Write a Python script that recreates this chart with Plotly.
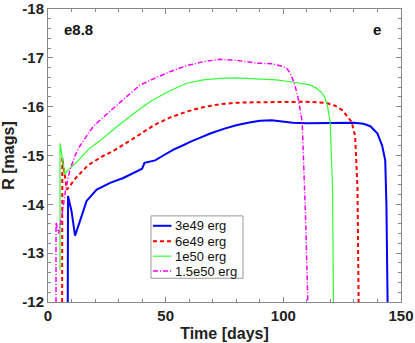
import plotly.graph_objects as go

# light curves, R band (days, mags)
t_3e49 = [8.4, 8.5, 10.0, 11.5, 13.6, 16.4, 20.7, 26.4, 32.0, 37.7, 40.0, 41.0, 45.5, 49.0,
          53.3, 57.0, 60.4, 65.0, 68.9, 75.0, 80.0, 85.0, 90.0, 95.0, 100.0, 104.0, 110.0,
          120.0, 130.0, 134.0, 137.0, 140.0, 142.0, 143.3, 143.8, 144.3]
r_3e49 = [-12.0, -14.17, -13.86, -13.36, -13.66, -14.07, -14.3, -14.44, -14.54, -14.68, -14.73,
          -14.85, -14.9, -15.0, -15.12, -15.2, -15.28, -15.37, -15.45, -15.55, -15.62, -15.67,
          -15.71, -15.72, -15.69, -15.67, -15.66, -15.67, -15.67, -15.65, -15.6, -15.45, -15.2,
          -14.9, -14.0, -12.0]

t_6e49 = [6.0, 6.1, 8.0, 10.0, 12.0, 17.0, 23.0, 28.0, 34.0, 38.0, 45.0, 52.0, 59.0, 66.0,
          73.0, 80.0, 89.0, 100.0, 110.0, 118.0, 122.0, 125.0, 127.0, 129.0, 130.5, 131.5, 132.0]
r_6e49 = [-12.0, -14.95, -14.3, -14.42, -14.55, -14.8, -14.98, -15.1, -15.27, -15.4, -15.62,
          -15.78, -15.9, -15.99, -16.05, -16.08, -16.09, -16.1, -16.1, -16.08, -16.02, -15.93,
          -15.82, -15.69, -15.4, -14.35, -12.0]

t_1e50 = [5.1, 5.1, 7.2, 8.0, 13.0, 17.0, 22.0, 30.0, 37.0, 44.0, 52.0, 59.0, 66.0, 73.0, 80.0,
          89.0, 97.0, 104.5, 111.6, 114.0, 116.0, 117.5, 118.7, 119.9, 120.9, 121.3]
r_1e50 = [-12.65, -15.25, -14.61, -14.68, -14.9, -15.12, -15.3, -15.62, -15.88, -16.12, -16.33,
          -16.48, -16.55, -16.58, -16.59, -16.57, -16.55, -16.5, -16.44, -16.38, -16.3, -16.2,
          -16.03, -15.69, -14.34, -12.0]

t_15e50 = [3.4, 3.4, 4.5, 6.0, 7.5, 9.3, 11.5, 13.6, 15.7, 19.3, 25.0, 30.7, 33.4, 39.0, 44.8,
           52.0, 59.0, 66.0, 73.0, 80.0, 89.0, 95.0, 100.0, 101.7, 103.0, 104.5, 106.0, 107.4,
           108.0, 109.5, 110.4]
r_15e50 = [-12.0, -13.63, -13.4, -13.8, -14.3, -14.7, -15.0, -15.2, -15.35, -15.6, -15.85,
           -16.09, -16.2, -16.44, -16.57, -16.72, -16.84, -16.92, -16.97, -16.95, -16.89, -16.88,
           -16.82, -16.77, -16.68, -16.5, -16.25, -15.89, -15.69, -13.66, -12.0]

labels = ["3e49 erg", "6e49 erg", "1e50 erg", "1.5e50 erg"]
colors = ["#0000ff", "#ff0000", "#33ff33", "#ff00ff"]
widths = [2, 2, 1.2, 1.5]
dashes = ["solid", "4px,3px", "solid", "5px,2px,1px,2px"]

font = "Liberation Sans, Arial, sans-serif"

fig = go.Figure()
series = [(t_3e49, r_3e49), (t_6e49, r_6e49), (t_1e50, r_1e50), (t_15e50, r_15e50)]
for (t, r), name, c, w, d in zip(series, labels, colors, widths, dashes):
    fig.add_trace(go.Scatter(x=t, y=r, mode="lines", name=name, showlegend=False,
                             line=dict(color=c, width=w, dash=d)))

# hand-drawn legend box (compact line samples like the original)
shapes = [dict(type="rect", xref="paper", yref="paper", x0=0.2918, x1=0.5524, y0=0.0811, y1=0.2939,
               line=dict(color="#999", width=1), fillcolor="white", layer="above")]
annotations = []
row_y = [0.2601, 0.2071, 0.1564, 0.1057]
for yy, name, c, w, d in zip(row_y, labels, colors, widths, dashes):
    shapes.append(dict(type="line", xref="paper", yref="paper", x0=0.2975, x1=0.3499, y0=yy, y1=yy,
                       line=dict(color=c, width=w, dash=d), layer="above"))
    annotations.append(dict(x=0.3527, y=yy, xref="paper", yref="paper", text=name, showarrow=False,
                            xanchor="left", yanchor="middle",
                            font=dict(size=13, family=font, color="#111")))

annotations += [
    dict(x=0.04, y=0.93, xref="paper", yref="paper", text="<b>e8.8</b>",
         showarrow=False, font=dict(size=15, family=font, color="#111"),
         xanchor="left", yanchor="middle"),
    dict(x=0.931, y=0.93, xref="paper", yref="paper", text="<b>e</b>",
         showarrow=False, font=dict(size=15, family=font, color="#111"),
         xanchor="center", yanchor="middle"),
]

fig.update_layout(
    width=415, height=343,
    margin=dict(l=48, r=14, t=9, b=41),
    plot_bgcolor="white", paper_bgcolor="white",
    font=dict(family=font, color="#222"),
    showlegend=False,
    shapes=shapes,
    annotations=annotations,
)

fig.update_xaxes(
    range=[0, 150], tickvals=[0, 50, 100, 150], ticktext=["<b>0</b>", "<b>50</b>", "<b>100</b>", "<b>150</b>"],
    ticks="inside", ticklen=5, tickcolor="#888", mirror="allticks", automargin=False,
    showline=True, linecolor="#888", linewidth=1, showgrid=False, zeroline=False,
    minor=dict(dtick=10, tick0=0, ticks="inside", ticklen=3, tickcolor="#888"),
    tickfont=dict(size=15, family=font, color="#222"), ticklabeloverflow="allow",
    title=dict(text="<b>Time [days]</b>", font=dict(size=16, family=font, color="#222"), standoff=4),
)
fig.update_yaxes(
    range=[-12, -18], tickvals=[-18, -17, -16, -15, -14, -13, -12],
    ticktext=["<b>-18</b>", "<b>-17</b>", "<b>-16</b>", "<b>-15</b>", "<b>-14</b>", "<b>-13</b>", "<b>-12</b>"],
    ticks="inside", ticklen=5, tickcolor="#888", mirror="allticks", automargin=False,
    showline=True, linecolor="#888", linewidth=1, showgrid=False, zeroline=False,
    minor=dict(dtick=0.2, tick0=-18, ticks="inside", ticklen=3, tickcolor="#888"),
    tickfont=dict(size=15, family=font, color="#222"), ticklabeloverflow="allow",
    title=dict(text="<b>R [mags]</b>", font=dict(size=16, family=font, color="#222"), standoff=4),
)

# drop the browser's default 8px body margin so the figure sits at the window origin
fig.write_html("out.html", config={"displayModeBar": False},
               post_script="document.body.style.margin='0';")
